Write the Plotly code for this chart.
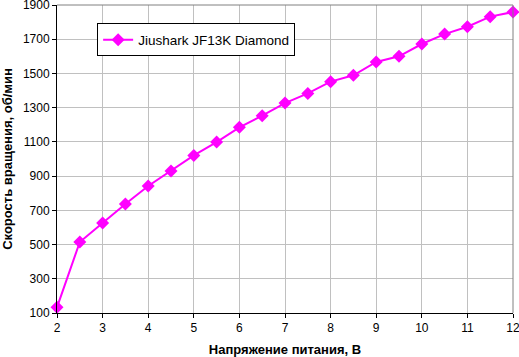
import plotly.graph_objects as go

voltage = [2, 2.5, 3, 3.5, 4, 4.5, 5, 5.5, 6, 6.5, 7, 7.5, 8, 8.5, 9, 9.5, 10, 10.5, 11, 11.5, 12]
rpm = [133, 515, 626, 737, 842, 930, 1021, 1099, 1185, 1253, 1327, 1383, 1452, 1489, 1567, 1600, 1672, 1730, 1773, 1832, 1859]
series_name = "Jiushark JF13K Diamond"
x_title = "Напряжение питания, В"
y_title = "Скорость вращения, об/мин"

fig = go.Figure()
fig.add_trace(go.Scatter(
    x=voltage, y=rpm, mode="lines+markers", name=series_name,
    line=dict(color="#ff00ff", width=2),
    marker=dict(symbol="diamond", size=10, color="#ff00ff"),
    cliponaxis=False,
))

font = "Liberation Sans, Arial, sans-serif"
fig.update_layout(
    width=519, height=357,
    margin=dict(l=57, r=6, t=5, b=44, autoexpand=False),
    paper_bgcolor="white", plot_bgcolor="white",
    font=dict(family=font, size=12, color="black"),
    showlegend=True,
    legend=dict(x=0.088, y=0.94, xanchor="left", yanchor="top",
                bordercolor="black", borderwidth=1, bgcolor="white",
                font=dict(size=13.5), itemwidth=30, entrywidth=160),
    xaxis=dict(range=[2, 12], dtick=1, tick0=2, showgrid=True, gridcolor="#c0c0c0",
               gridwidth=1, showline=True, linecolor="black", linewidth=1,
               ticks="outside", ticklen=4, tickcolor="black", mirror=False,
               automargin=False, ticklabeloverflow="allow",
               title=dict(text="<b>" + x_title + "</b>", font=dict(size=13)),
               zeroline=False, fixedrange=True),
    yaxis=dict(range=[100, 1900], dtick=200, tick0=100, showgrid=True, gridcolor="#c0c0c0",
               gridwidth=1, showline=True, linecolor="black", linewidth=1,
               ticks="outside", ticklen=4, tickcolor="black",
               automargin=False, ticklabeloverflow="allow",
               title=dict(text="<b>" + y_title + "</b>", font=dict(size=13)),
               zeroline=False, fixedrange=True),
)
# gray top/right border of plot area
fig.add_shape(type="line", xref="paper", yref="paper", x0=0, x1=1, y0=1, y1=1,
              line=dict(color="#808080", width=1))
fig.add_shape(type="line", xref="paper", yref="paper", x0=1, x1=1, y0=0, y1=1,
              line=dict(color="#808080", width=1))

fig.write_html("out.html", config={"displayModeBar": False},
               post_script="document.body.style.margin='0';document.body.style.overflow='hidden';")
